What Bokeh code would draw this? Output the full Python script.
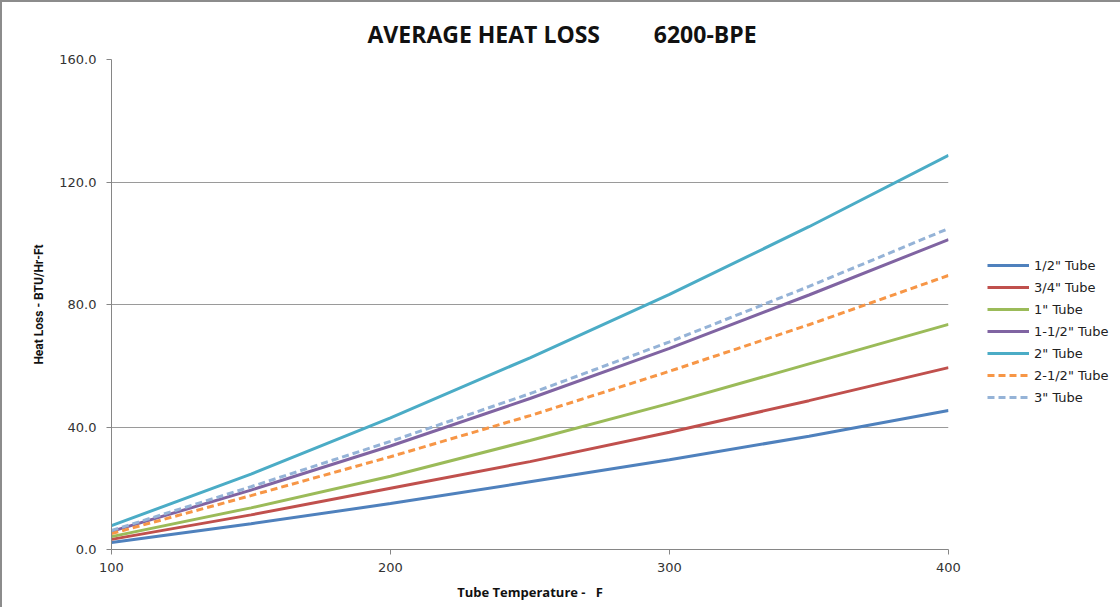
from bokeh.plotting import figure
from bokeh.models import FixedTicker, NumeralTickFormatter, Legend, LegendItem
from bokeh.embed import file_html
from bokeh.resources import INLINE

temps = [100, 150, 200, 250, 300, 350, 400]
tube_half = [2.3, 8.4, 15.0, 22.1, 29.3, 37.0, 45.4]
tube_3q = [3.3, 11.3, 20.0, 28.7, 38.3, 48.6, 59.4]
tube_1 = [4.2, 13.6, 23.9, 35.6, 47.7, 60.6, 73.5]
tube_1h = [5.9, 19.4, 33.8, 49.3, 65.7, 83.1, 101.2]
tube_2 = [7.8, 24.6, 43.0, 62.6, 83.3, 105.4, 128.7]
tube_2h = [5.2, 17.6, 30.3, 43.7, 58.2, 73.4, 89.5]
tube_3 = [6.2, 20.5, 35.3, 50.9, 67.8, 85.9, 104.8]

series = [
    ('1/2" Tube', tube_half, "#4F81BD", "solid"),
    ('3/4" Tube', tube_3q, "#C0504D", "solid"),
    ('1" Tube', tube_1, "#9BBB59", "solid"),
    ('1-1/2" Tube', tube_1h, "#8064A2", "solid"),
    ('2" Tube', tube_2, "#4BACC6", "solid"),
    ('2-1/2" Tube', tube_2h, "#F79646", "7 4"),
    ('3" Tube', tube_3, "#95B3D7", "7 4"),
]

NB = "\u00a0"
p = figure(frame_width=837, frame_height=490, output_backend="svg", toolbar_location=None,
           x_range=(100, 400), y_range=(0, 160),
           min_border_left=109, min_border_right=165, min_border_top=57, min_border_bottom=58,
           title="AVERAGE HEAT LOSS" + NB * 9 + "6200-BPE")
p.styles = {"border-left": "2px solid #8c8c8c", "border-top": "2px solid #8c8c8c"}

p.title.align = "left"
p.title.offset = 256
p.title.text_font = "Open Sans"
p.title.text_font_style = "bold"
p.title.text_font_size = "23px"
p.title.text_color = "#111111"
p.title.standoff = 20

p.outline_line_color = None
p.xgrid.grid_line_color = None
p.ygrid.grid_line_color = "#9a9a9a"
p.ygrid.grid_line_width = 1

p.xaxis.ticker = FixedTicker(ticks=[100, 200, 300, 400])
p.yaxis.ticker = FixedTicker(ticks=[0, 40, 80, 120, 160])
p.yaxis.formatter = NumeralTickFormatter(format="0.0")
for ax in (p.xaxis, p.yaxis):
    ax.axis_line_color = "#868686"
    ax.major_tick_line_color = "#868686"
    ax.major_tick_in = 0
    ax.major_tick_out = 5
    ax.minor_tick_line_color = None
    ax.major_label_text_font = "DejaVu Sans"
    ax.major_label_text_font_size = "13px"
    ax.major_label_text_color = "#333333"
    ax.axis_label_text_font_style = "bold"
    ax.axis_label_text_color = "#111111"

p.xaxis.axis_label_text_font = "Open Sans"
p.xaxis.axis_label_text_font_size = "13px"
p.yaxis.axis_label_text_font = "Roboto"
p.yaxis.axis_label_text_font_size = "12px"

p.xaxis.axis_label = "Tube Temperature -" + NB * 3 + "F"
p.yaxis.axis_label = "Heat Loss - BTU/Hr-Ft"
p.xaxis.major_label_standoff = 8
p.xaxis.axis_label_standoff = 8
p.yaxis.major_label_standoff = 10
p.yaxis.axis_label_standoff = 10

items = []
for name, vals, color, dash in series:
    r = p.line(temps, vals, line_color=color, line_width=3, line_dash=dash)
    items.append(LegendItem(label=name, renderers=[r]))

legend = Legend(items=items, location=(39, 142), glyph_width=42, glyph_height=20,
                label_height=20, spacing=2, label_standoff=5, padding=0, margin=0,
                border_line_color=None, background_fill_alpha=0,
                label_text_font="DejaVu Sans", label_text_font_size="13px",
                label_text_color="#222222")
p.add_layout(legend, "right")

open("out.html", "w").write(file_html(p, INLINE))
